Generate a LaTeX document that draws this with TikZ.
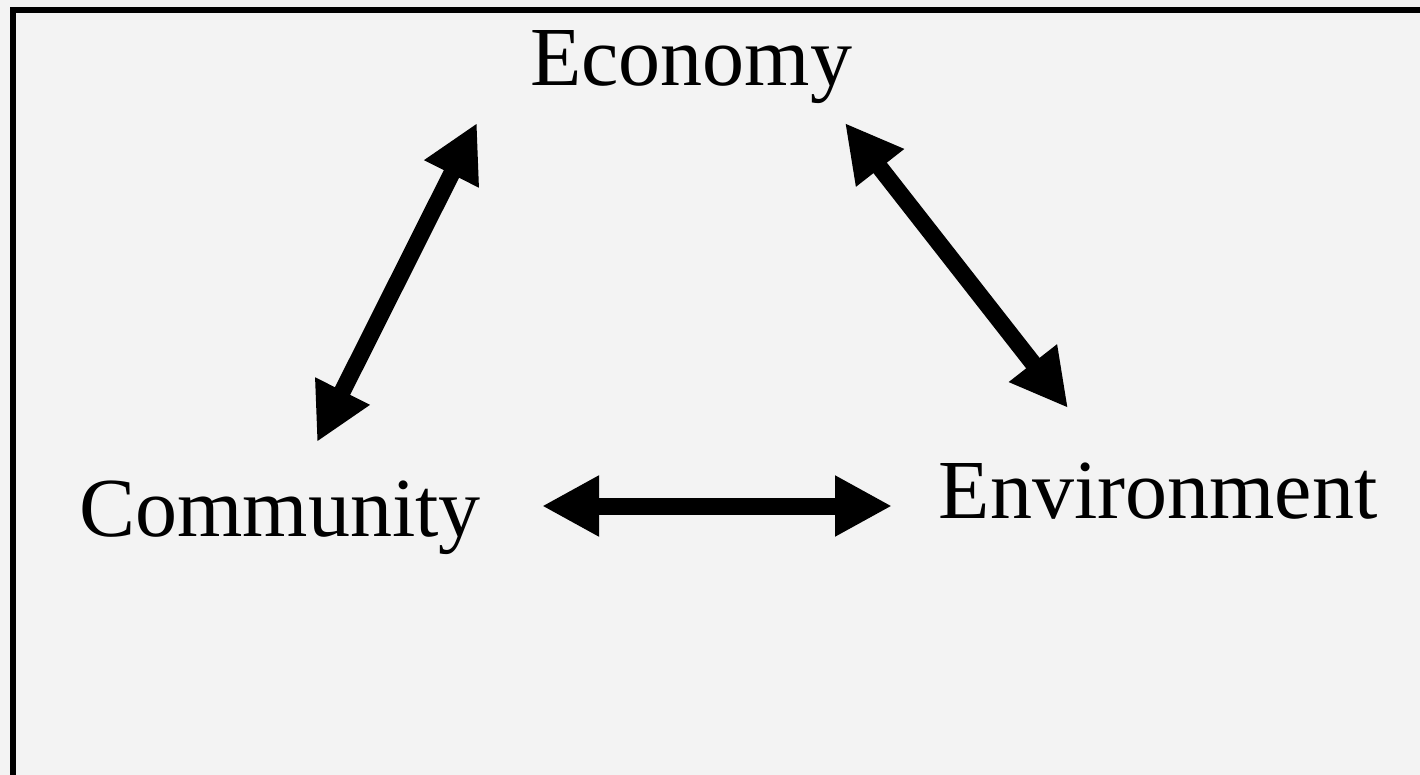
\documentclass[tikz,border=0pt]{standalone}
\usepackage{fontspec}
\setmainfont{Liberation Serif}
\usetikzlibrary{positioning,arrows.meta}
\definecolor{paper}{HTML}{F3F3F3}
\tikzstyle{word}=[inner sep=0pt, anchor=base, text=black, font=\fontsize{42}{42}\selectfont]
\tikzstyle{link}=[line width=8.5pt, draw=black, <->]
\tikzset{>={Triangle[length=28.5pt, width=28.5pt]}}

\begin{document}
\begin{tikzpicture}[x=0.5pt, y=-0.5pt]
        \useasboundingbox[fill=paper] (0,0) rectangle (1420,775);
        \draw[line width=3pt] (13,10) rectangle (1440,795);

        \node(economy)[word] at (691,86) {Economy};
        \node(community)[word] at (280,536) {Community};
        \node(environment)[word] at (1158,518) {Environment};

        % arrow ends
        \coordinate (economy_l) at (477,123);
        \coordinate (economy_r) at (845,123);
        \coordinate (community_t) at (317,442);
        \coordinate (community_r) at (542,506);
        \coordinate (environment_t) at (1068,408);
        \coordinate (environment_l) at (892,506);

        \draw[link] (community_t) -- (economy_l);
        \draw[link] (economy_r) -- (environment_t);
        \draw[link] (community_r) -- (environment_l);
\end{tikzpicture}
\end{document}
